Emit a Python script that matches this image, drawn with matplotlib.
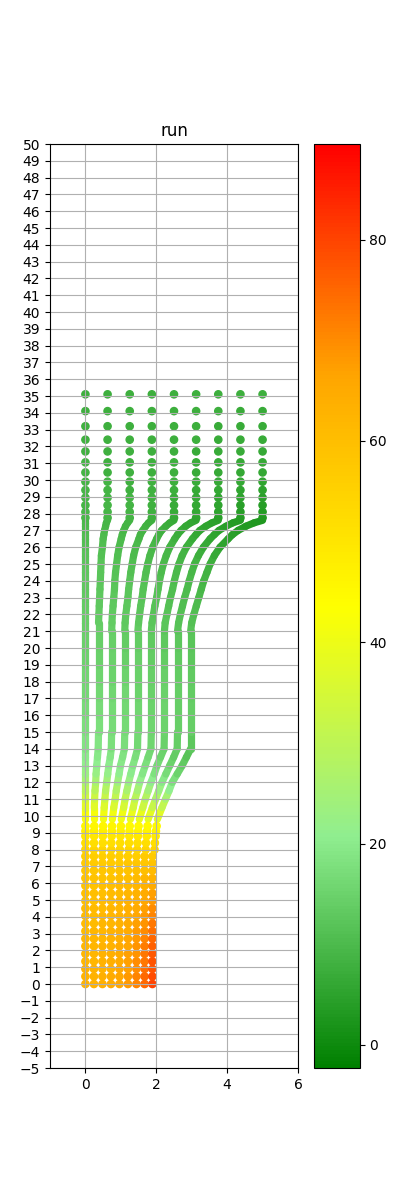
import numpy as np
import matplotlib
matplotlib.use("Agg")
import matplotlib.pyplot as plt
from matplotlib.colors import LinearSegmentedColormap, Normalize
from matplotlib.collections import LineCollection

# colour scale
c_min, c_max = -2.3, 89.5
cmap_colors = ["green", "lightgreen", "yellow", "orange", "red"]

# lower dots: one x per run, rows shared
low_x = [0.0, 0.24, 0.48, 0.72, 0.96, 1.2, 1.44, 1.67, 1.89]
low_y = [0.0, 0.45, 0.9, 1.35, 1.8, 2.25, 2.7, 3.15, 3.6, 4.05, 4.5, 4.95,
         5.4, 5.85, 6.3, 6.75, 7.2, 7.6]
low_c = [
    [63, 63, 64, 65, 66, 68, 71, 75, 80],
    [63, 63, 64, 65, 66, 68, 71, 75, 79],
    [63, 63, 63, 64, 66, 67, 70, 74, 78],
    [62, 62, 63, 64, 65, 67, 70, 73, 78],
    [62, 62, 63, 64, 65, 67, 69, 73, 77],
    [62, 62, 63, 63, 65, 66, 69, 72, 76],
    [62, 62, 62, 63, 64, 66, 68, 71, 75],
    [61, 62, 62, 63, 64, 65, 68, 70, 74],
    [61, 61, 62, 62, 63, 65, 67, 69, 73],
    [61, 61, 62, 62, 63, 64, 66, 68, 71],
    [61, 61, 61, 62, 62, 64, 65, 67, 70],
    [60, 60, 61, 61, 62, 63, 64, 66, 68],
    [60, 60, 60, 61, 61, 62, 63, 65, 67],
    [59, 59, 60, 60, 61, 61, 62, 63, 65],
    [59, 59, 59, 59, 60, 60, 61, 62, 63],
    [58, 58, 58, 58, 59, 59, 60, 60, 61],
    [57, 57, 57, 57, 57, 58, 58, 58, 59],
    [56, 56, 56, 56, 56, 56, 56, 57, 57],
]

# dots where the runs start to bunch up
mid_y = [8.0, 8.4, 8.8, 9.1, 9.4]
mid_x = [
    [0.0, 0.24, 0.48, 0.73, 0.97, 1.22, 1.46, 1.70, 1.95],
    [0.0, 0.24, 0.49, 0.73, 0.98, 1.23, 1.47, 1.71, 1.96],
    [0.0, 0.245, 0.49, 0.74, 0.99, 1.24, 1.48, 1.73, 1.98],
    [0.0, 0.245, 0.495, 0.745, 0.995, 1.245, 1.49, 1.74, 1.99],
    [0.0, 0.25, 0.50, 0.75, 1.0, 1.25, 1.5, 1.755, 2.01],
]
mid_c = [
    [54, 54, 54, 54, 54, 54, 54, 54, 55],
    [52, 52, 52, 52, 52, 52, 52, 52, 52],
    [50, 50, 50, 50, 50, 50, 50, 49, 49],
    [48, 48, 48, 48, 48, 47, 47, 47, 47],
    [46, 46, 46, 46, 46, 45, 45, 45, 45],
]

# dense part of each run (points so close they read as a line)
path_y = [9.8, 10.5, 11, 11.5, 12, 12.5, 13, 13.5, 14, 15, 16, 17, 18, 19,
          20, 21, 21.5, 22, 22.5, 23, 23.5, 24, 24.5, 25, 25.5, 26, 26.5,
          26.75, 27, 27.25, 27.45, 27.6]
path_x = [
    [0, 0.25, 0.51, 0.76, 1.01, 1.27, 1.52, 1.77, 2.03],
    [0, 0.25, 0.53, 0.80, 1.08, 1.35, 1.62, 1.89, 2.16],
    [0, 0.26, 0.55, 0.84, 1.12, 1.40, 1.69, 1.98, 2.26],
    [0, 0.27, 0.57, 0.87, 1.17, 1.47, 1.77, 2.07, 2.36],
    [0, 0.29, 0.60, 0.91, 1.22, 1.53, 1.85, 2.16, 2.45],
    [0, 0.30, 0.63, 0.95, 1.28, 1.61, 1.94, 2.27, 2.59],
    [0, 0.32, 0.66, 0.99, 1.34, 1.69, 2.02, 2.38, 2.73],
    [0, 0.34, 0.70, 1.05, 1.41, 1.77, 2.12, 2.49, 2.85],
    [0, 0.36, 0.73, 1.10, 1.47, 1.85, 2.22, 2.59, 2.97],
    [0, 0.37, 0.74, 1.11, 1.48, 1.86, 2.23, 2.60, 2.97],
    [0, 0.37, 0.74, 1.11, 1.48, 1.86, 2.23, 2.60, 2.97],
    [0, 0.37, 0.74, 1.11, 1.48, 1.86, 2.23, 2.60, 2.97],
    [0, 0.37, 0.74, 1.11, 1.48, 1.86, 2.23, 2.60, 2.97],
    [0, 0.37, 0.74, 1.11, 1.48, 1.86, 2.23, 2.60, 2.97],
    [0, 0.37, 0.74, 1.11, 1.48, 1.86, 2.23, 2.60, 2.97],
    [0, 0.37, 0.74, 1.11, 1.48, 1.86, 2.23, 2.60, 2.97],
    [0, 0.37, 0.75, 1.12, 1.50, 1.88, 2.25, 2.63, 3.00],
    [0, 0.38, 0.76, 1.14, 1.53, 1.92, 2.30, 2.68, 3.06],
    [0, 0.39, 0.78, 1.17, 1.56, 1.96, 2.35, 2.74, 3.13],
    [0, 0.40, 0.80, 1.20, 1.60, 2.01, 2.40, 2.80, 3.20],
    [0, 0.41, 0.82, 1.22, 1.63, 2.05, 2.46, 2.87, 3.27],
    [0, 0.42, 0.83, 1.25, 1.67, 2.09, 2.51, 2.93, 3.34],
    [0, 0.43, 0.85, 1.28, 1.71, 2.14, 2.57, 3.00, 3.43],
    [0, 0.44, 0.88, 1.32, 1.76, 2.20, 2.64, 3.08, 3.52],
    [0, 0.45, 0.91, 1.36, 1.82, 2.28, 2.73, 3.19, 3.64],
    [0, 0.48, 0.95, 1.42, 1.90, 2.38, 2.85, 3.33, 3.80],
    [0, 0.50, 1.01, 1.51, 2.01, 2.52, 3.02, 3.52, 4.03],
    [0, 0.52, 1.04, 1.55, 2.07, 2.60, 3.12, 3.64, 4.15],
    [0, 0.54, 1.08, 1.62, 2.15, 2.70, 3.23, 3.77, 4.31],
    [0, 0.57, 1.13, 1.70, 2.27, 2.83, 3.40, 3.97, 4.53],
    [0, 0.59, 1.19, 1.78, 2.38, 2.97, 3.57, 4.16, 4.76],
    [0, 0.625, 1.25, 1.875, 2.5, 3.125, 3.75, 4.375, 5.0],
]
path_c = [
    [44, 44, 43, 43, 43, 42, 42, 41, 41],
    [40, 40, 39, 39, 38, 37, 36, 35, 34],
    [35, 35, 34, 33, 32, 31, 30, 29, 28],
    [31, 31, 30, 29, 28, 27, 26, 25, 23],
    [27, 27, 26, 25, 24, 23, 22, 21, 19],
    [24, 24, 23, 22, 21, 20, 19, 18, 16],
    [22, 21.5, 21, 20, 19, 18, 17, 16, 14],
    [20.5, 20, 19.5, 19, 18, 17, 16, 14.5, 12.5],
    [19.5, 19, 18.5, 17.5, 16.5, 15.5, 14.5, 13, 11],
    [18, 18, 17, 17, 16, 16, 15, 15, 14],
    [17, 17, 17, 16, 16, 15, 15, 14, 14],
    [16.5, 16.5, 16, 16, 15.5, 15, 15, 14, 14],
    [16, 16, 15.5, 15.5, 15, 14.5, 14.5, 14, 13.5],
    [15.5, 15, 15, 15, 14.5, 14, 14, 13.5, 13],
    [15, 14.5, 14.5, 14, 14, 13.5, 13.5, 13, 12.5],
    [14.5, 14, 14, 13.5, 13.5, 13, 12.5, 12, 12],
    [14.2, 13.8, 13.8, 13.2, 13, 12.5, 12.2, 11.8, 11.5],
    [14, 13.5, 13.5, 13, 12.5, 12, 12, 11.5, 11],
    [13.8, 13.2, 13.2, 12.8, 12.2, 11.8, 11.5, 11, 10.5],
    [13.5, 13, 13, 12.5, 12, 11.5, 11, 10.5, 10],
    [13.2, 12.8, 12.5, 12.2, 11.8, 11.2, 10.8, 10.2, 9.5],
    [13, 12.5, 12, 12, 11.5, 11, 10.5, 10, 9],
    [12.8, 12.2, 11.8, 11.5, 11, 10.5, 10, 9.5, 8.5],
    [12.5, 12, 11.5, 11, 10.5, 10, 9.5, 9, 8],
    [12, 11.5, 11, 10.5, 10, 9.5, 9, 8, 7],
    [11.5, 11, 10.5, 10, 9.5, 9, 8, 7, 6],
    [11, 10.5, 10, 9.5, 9, 8, 7, 6, 5],
    [10.8, 10.2, 9.8, 9.2, 8.5, 7.5, 6.5, 5.5, 4.5],
    [10.5, 10, 9.5, 9, 8, 7, 6, 5, 4],
    [10, 9.5, 9, 8.5, 7.5, 6.5, 5.5, 4.5, 3.5],
    [10, 9, 8.5, 8, 7, 6, 5, 4, 3],
    [9.5, 9, 8.5, 7.5, 6.5, 5.5, 4.5, 3.5, 3],
]

# upper dots: one x per run, rows shared
top_x = [0.0, 0.625, 1.25, 1.875, 2.5, 3.125, 3.75, 4.375, 5.0]
top_y = [27.75, 28.1, 28.5, 28.95, 29.4, 29.9, 30.45, 31.05, 31.7, 32.4,
         33.2, 34.1, 35.1]
top_c = [
    [9.5, 9, 8.5, 7.5, 6.5, 5.5, 4.5, 3.5, 3],
    [9.5, 9, 8.5, 8, 7, 6, 5, 4, 3.5],
    [9, 9, 8.5, 8, 7, 6, 5.5, 4.5, 4],
    [9, 8.5, 8.5, 8, 7, 6.5, 5.5, 5, 4.5],
    [9, 8.5, 8, 8, 7.5, 6.5, 6, 5.5, 5],
    [8.5, 8.5, 8, 8, 7.5, 7, 6.5, 6, 5.5],
    [8.5, 8, 8, 7.5, 7.5, 7, 6.5, 6, 6],
    [8.5, 8, 8, 7.5, 7.5, 7, 7, 6.5, 6.5],
    [8, 8, 8, 7.5, 7.5, 7, 7, 7, 6.5],
    [8, 8, 7.5, 7.5, 7.5, 7.5, 7, 7, 7],
    [8, 7.5, 7.5, 7.5, 7.5, 7.5, 7, 7, 7],
    [7.5, 7.5, 7.5, 7.5, 7.5, 7.5, 7.5, 7, 7],
    [7.5, 7.5, 7.5, 7.5, 7.5, 7.5, 7.5, 7.5, 7.5],
]

cmap = LinearSegmentedColormap.from_list("run_cmap", cmap_colors)
norm = Normalize(c_min, c_max)

xs, ys, cs = [], [], []
for r, y in enumerate(low_y):
    for j, x in enumerate(low_x):
        xs.append(x); ys.append(y); cs.append(low_c[r][j])
for r, y in enumerate(mid_y):
    for j in range(len(low_x)):
        xs.append(mid_x[r][j]); ys.append(y); cs.append(mid_c[r][j])
for r, y in enumerate(top_y):
    for j, x in enumerate(top_x):
        xs.append(x); ys.append(y); cs.append(top_c[r][j])

fig = plt.figure(figsize=(4, 12))
ax = plt.gca()

# dense stretches as thick coloured segments
px = np.array(path_x)
pc = np.array(path_c)
segs, seg_c = [], []
for j in range(px.shape[1]):
    for k in range(len(path_y) - 1):
        segs.append([(px[k, j], path_y[k]), (px[k + 1, j], path_y[k + 1])])
        seg_c.append((pc[k, j] + pc[k + 1, j]) / 2)
lc = LineCollection(segs, cmap=cmap, norm=norm, linewidths=5.2,
                    capstyle="round", zorder=1)
lc.set_array(np.array(seg_c))
ax.add_collection(lc)

sc = ax.scatter(xs, ys, c=cs, cmap=cmap, norm=norm, s=27)
cb = plt.colorbar(sc)
cb.set_ticks([0, 20, 40, 60, 80])

ax.set_xlim(-1, 6)
ax.set_ylim(-5, 50)
ax.set_xticks([0, 2, 4, 6])
ax.set_yticks(np.arange(-5, 51, 1))
ax.grid()
ax.set_title("run")

plt.savefig("out.png")
